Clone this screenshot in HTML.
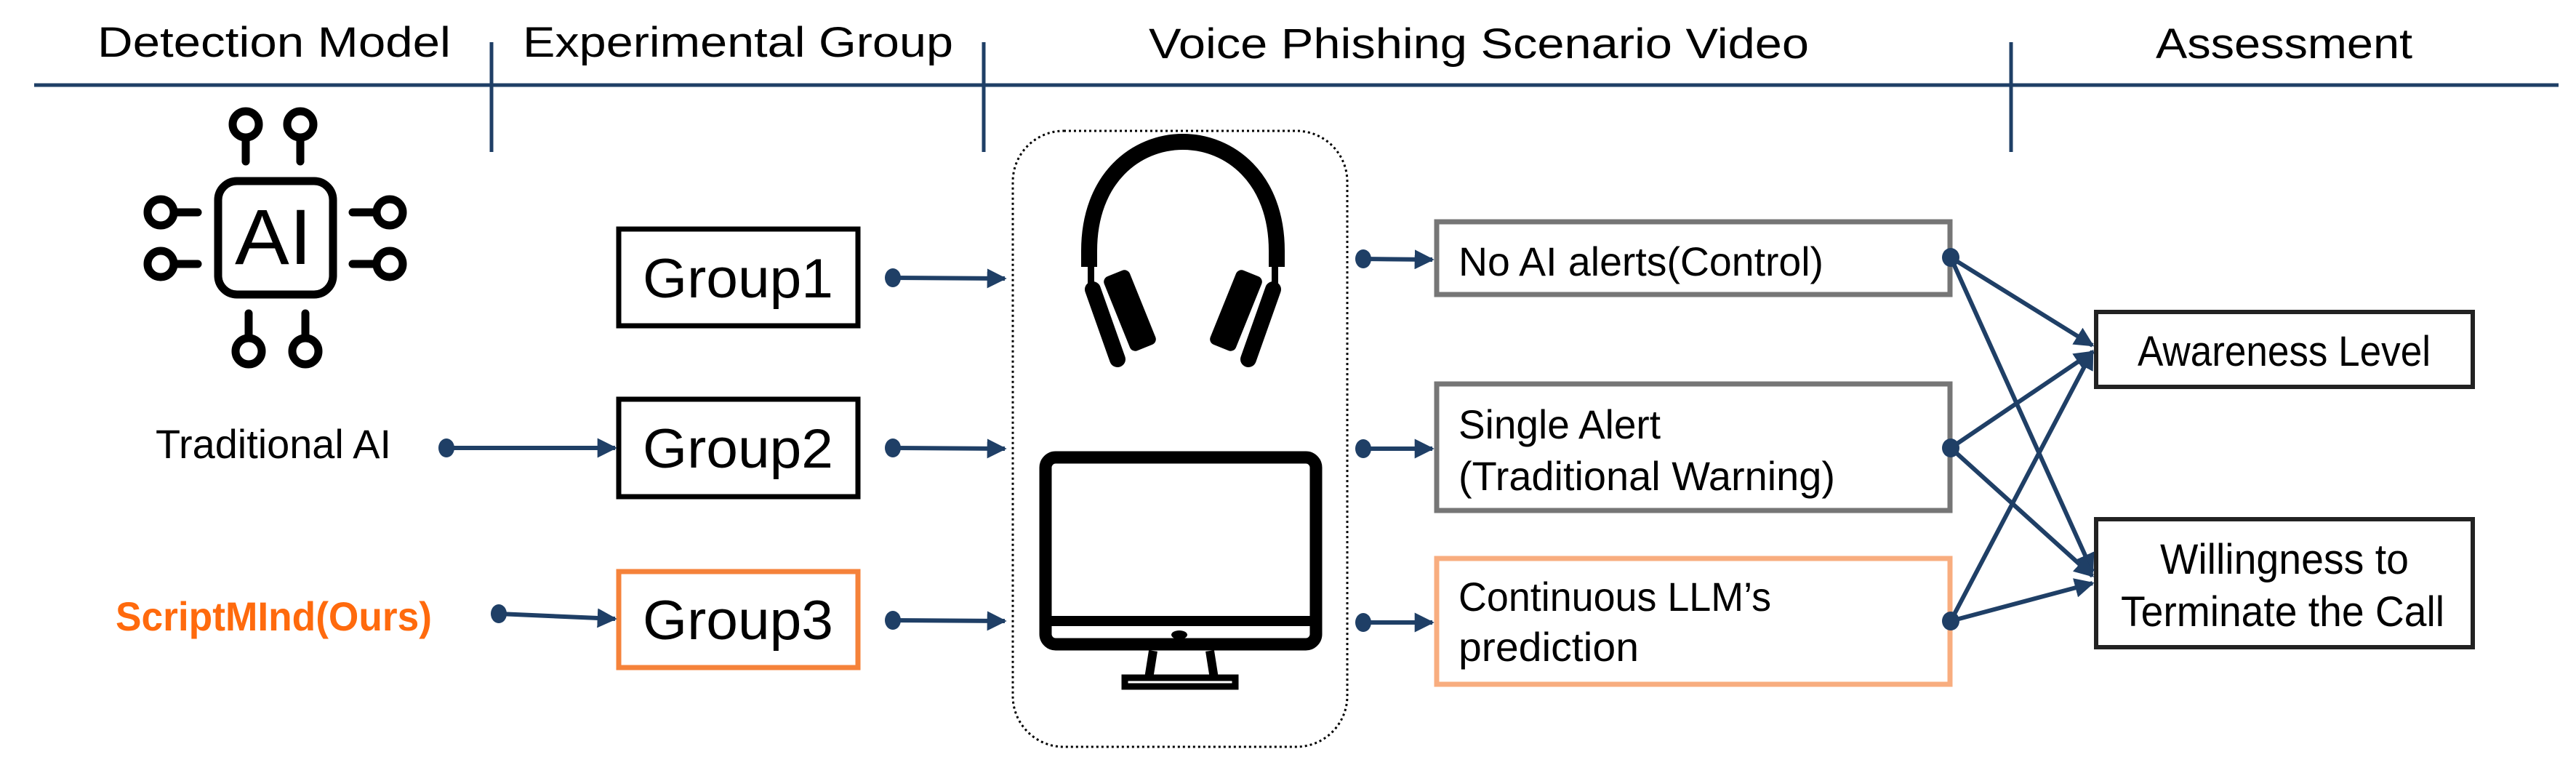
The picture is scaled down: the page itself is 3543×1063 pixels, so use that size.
<!DOCTYPE html>
<html><head><meta charset="utf-8"><style>
html,body{margin:0;padding:0;background:#fff;}
svg{display:block;}
text{font-family:"Liberation Sans",sans-serif;}
</style></head><body>
<svg width="3543" height="1063" viewBox="0 0 3543 1063" xmlns="http://www.w3.org/2000/svg">
<defs>
<marker id="ah" viewBox="0 0 10 10" refX="9" refY="5" markerWidth="4.5" markerHeight="4.5" markerUnits="strokeWidth" orient="auto">
<path d="M0,0 L10,5 L0,10 z" fill="#1F3F66"/></marker>
</defs>
<!-- header -->
<line x1="47" y1="117" x2="3519" y2="117" stroke="#1F3F66" stroke-width="5"/>
<g stroke="#1F3F66" stroke-width="5">
<line x1="676" y1="58" x2="676" y2="209"/>
<line x1="1353" y1="58" x2="1353" y2="209"/>
<line x1="2766" y1="58" x2="2766" y2="209"/>
</g>
<g font-size="58" fill="#000">
<text x="134" y="78" textLength="486" lengthAdjust="spacingAndGlyphs">Detection Model</text>
<text x="719" y="78" textLength="592" lengthAdjust="spacingAndGlyphs">Experimental Group</text>
<text x="1580" y="80" textLength="908" lengthAdjust="spacingAndGlyphs">Voice Phishing Scenario Video</text>
<text x="2965" y="80" textLength="353" lengthAdjust="spacingAndGlyphs">Assessment</text>
</g>
<!-- AI icon -->
<g stroke="#000" stroke-width="11" fill="none" stroke-linecap="round">
<rect x="300" y="249" width="158" height="156" rx="26"/>
<circle cx="338" cy="171" r="18"/><circle cx="413" cy="171" r="18"/>
<line x1="338" y1="189" x2="338" y2="222"/><line x1="413" y1="189" x2="413" y2="222"/>
<circle cx="342" cy="483" r="18"/><circle cx="420" cy="483" r="18"/>
<line x1="342" y1="465" x2="342" y2="431"/><line x1="420" y1="465" x2="420" y2="431"/>
<circle cx="221" cy="292" r="18"/><circle cx="221" cy="363" r="18"/>
<line x1="239" y1="292" x2="272" y2="292"/><line x1="239" y1="363" x2="272" y2="363"/>
<circle cx="536" cy="292" r="18"/><circle cx="536" cy="363" r="18"/>
<line x1="518" y1="292" x2="485" y2="292"/><line x1="518" y1="363" x2="485" y2="363"/>
</g>
<text x="323" y="363" font-size="108" textLength="106" lengthAdjust="spacingAndGlyphs" fill="#000">AI</text>
<!-- left labels -->
<text x="214" y="630" font-size="56" textLength="324" lengthAdjust="spacingAndGlyphs" fill="#000">Traditional AI</text>
<text x="159" y="867" font-size="56" font-weight="bold" textLength="435" lengthAdjust="spacingAndGlyphs" fill="#FF6A0D">ScriptMInd(Ours)</text>
<!-- group boxes -->
<g fill="#fff" stroke-width="7">
<rect x="851" y="315" width="329" height="133" stroke="#000"/>
<rect x="851" y="549" width="329" height="134" stroke="#000"/>
<rect x="851" y="786" width="329" height="132" stroke="#F5823A"/>
</g>
<g font-size="76" fill="#000">
<text x="884" y="409" textLength="262" lengthAdjust="spacingAndGlyphs">Group1</text>
<text x="884" y="643" textLength="262" lengthAdjust="spacingAndGlyphs">Group2</text>
<text x="884" y="879" textLength="262" lengthAdjust="spacingAndGlyphs">Group3</text>
</g>
<!-- connectors -->
<g stroke="#1F3F66" stroke-width="6" fill="#1F3F66">
<line x1="614" y1="616" x2="846" y2="616" marker-end="url(#ah)"/><ellipse cx="614" cy="616" rx="11" ry="13" stroke="none"/>
<line x1="686" y1="844" x2="846" y2="851" marker-end="url(#ah)"/><ellipse cx="686" cy="844" rx="11" ry="13" stroke="none"/>
<line x1="1228" y1="382" x2="1382" y2="383" marker-end="url(#ah)"/><ellipse cx="1228" cy="382" rx="11" ry="13" stroke="none"/>
<line x1="1228" y1="616" x2="1382" y2="617" marker-end="url(#ah)"/><ellipse cx="1228" cy="616" rx="11" ry="13" stroke="none"/>
<line x1="1228" y1="853" x2="1382" y2="854" marker-end="url(#ah)"/><ellipse cx="1228" cy="853" rx="11" ry="13" stroke="none"/>
<line x1="1875" y1="356" x2="1970" y2="357" marker-end="url(#ah)"/><ellipse cx="1875" cy="356" rx="11" ry="13" stroke="none"/>
<line x1="1875" y1="617" x2="1970" y2="617" marker-end="url(#ah)"/><ellipse cx="1875" cy="617" rx="11" ry="13" stroke="none"/>
<line x1="1875" y1="856" x2="1970" y2="856" marker-end="url(#ah)"/><ellipse cx="1875" cy="856" rx="11" ry="13" stroke="none"/>
</g>
<!-- dotted box -->
<rect x="1393" y="180" width="460" height="847" rx="70" fill="none" stroke="#000" stroke-width="3" stroke-dasharray="3 4"/>
<!-- headphones -->
<g fill="#000">
<path d="M1498,367 L1498,345 C1498,145 1756,145 1756,345 L1756,367" fill="none" stroke="#000" stroke-width="22"/>
<line x1="1503" y1="398" x2="1537" y2="494" stroke="#000" stroke-width="22" stroke-linecap="round"/>
<line x1="1751" y1="398" x2="1717" y2="494" stroke="#000" stroke-width="22" stroke-linecap="round"/>
<rect x="1496" y="362" width="9" height="36"/><rect x="1749" y="362" width="9" height="36"/>
<rect x="-19" y="-55" width="38" height="110" rx="8" transform="translate(1554,427) rotate(-22)"/>
<rect x="-19" y="-55" width="38" height="110" rx="8" transform="translate(1700,427) rotate(22)"/>
</g>
<!-- monitor -->
<g fill="none" stroke="#000">
<rect x="1438" y="629" width="372" height="257" rx="14" stroke-width="17"/>
<line x1="1438" y1="854" x2="1810" y2="854" stroke-width="14"/>
<path d="M1586,895 L1580,933 M1664,895 L1670,933" stroke-width="12"/>
<rect x="1547" y="932" width="152" height="12" stroke-width="9"/>
</g>
<ellipse cx="1622" cy="873" rx="11" ry="6" fill="#000"/>
<!-- right boxes -->
<g fill="#fff" stroke-width="7">
<rect x="1976" y="305" width="706" height="100" stroke="#767676"/>
<rect x="1976" y="528" width="706" height="174" stroke="#767676"/>
<rect x="1976" y="768" width="706" height="173" stroke="#F8AD7F"/>
</g>
<g font-size="56" fill="#000">
<text x="2006" y="379" textLength="502" lengthAdjust="spacingAndGlyphs">No AI alerts(Control)</text>
<text x="2006" y="603" textLength="278" lengthAdjust="spacingAndGlyphs">Single Alert</text>
<text x="2006" y="674" textLength="518" lengthAdjust="spacingAndGlyphs">(Traditional Warning)</text>
<text x="2006" y="840" textLength="430" lengthAdjust="spacingAndGlyphs">Continuous LLM’s</text>
<text x="2006" y="909" textLength="248" lengthAdjust="spacingAndGlyphs">prediction</text>
</g>
<!-- assessment boxes -->
<g fill="#fff" stroke="#222" stroke-width="6">
<rect x="2883" y="429" width="518" height="103"/>
<rect x="2883" y="714" width="518" height="176"/>
</g>
<g font-size="58" fill="#000">
<text x="2940" y="503" textLength="403" lengthAdjust="spacingAndGlyphs">Awareness Level</text>
<text x="2971" y="789" textLength="342" lengthAdjust="spacingAndGlyphs">Willingness to</text>
<text x="2917" y="861" textLength="445" lengthAdjust="spacingAndGlyphs">Terminate the Call</text>
</g>
<g stroke="#1F3F66" stroke-width="6" fill="#1F3F66">
<line x1="2683" y1="354" x2="2878" y2="475" marker-end="url(#ah)"/>
<line x1="2683" y1="354" x2="2878" y2="786" marker-end="url(#ah)"/>
<line x1="2683" y1="616" x2="2878" y2="484" marker-end="url(#ah)"/>
<line x1="2683" y1="616" x2="2878" y2="792" marker-end="url(#ah)"/>
<line x1="2683" y1="854" x2="2878" y2="483" marker-end="url(#ah)"/>
<line x1="2683" y1="854" x2="2878" y2="802" marker-end="url(#ah)"/>
<ellipse cx="2683" cy="354" rx="12" ry="13" stroke="none"/>
<ellipse cx="2683" cy="616" rx="12" ry="13" stroke="none"/>
<ellipse cx="2683" cy="854" rx="12" ry="13" stroke="none"/>
</g>
</svg>
</body></html>
